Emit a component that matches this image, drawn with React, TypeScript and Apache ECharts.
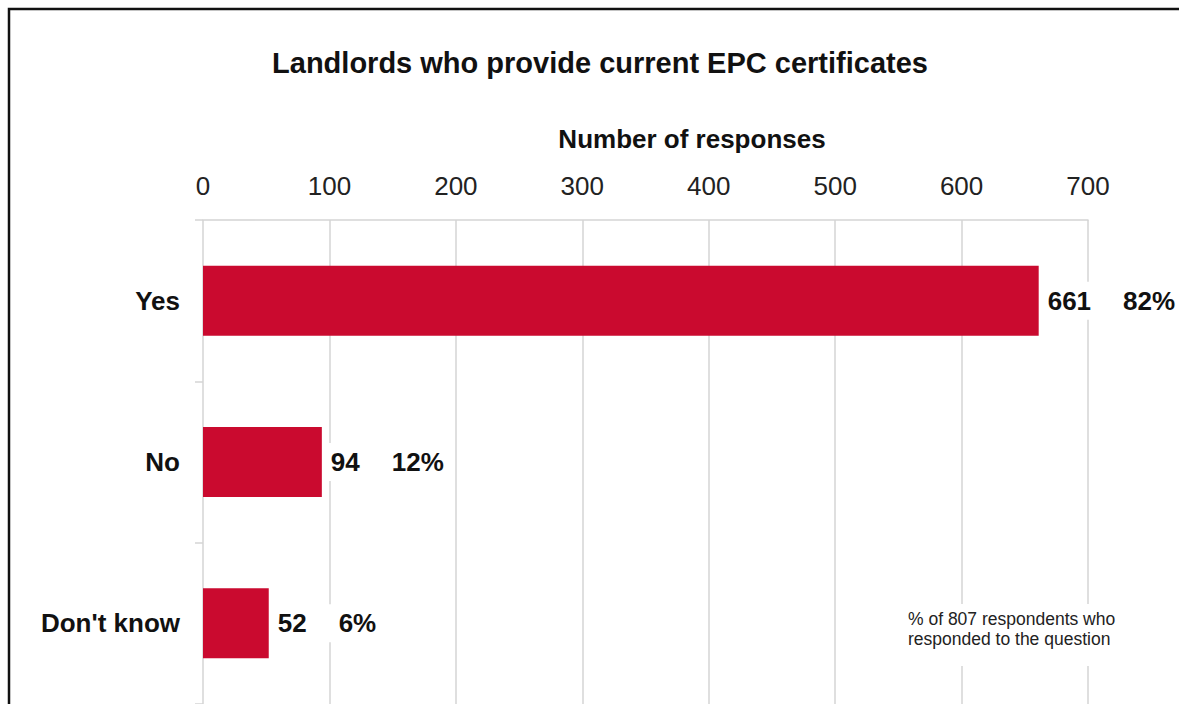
import React, { useEffect, useRef } from "react";
import * as echarts from "echarts";

const categories = ["Yes", "No", "Don't know"];
const responses = [661, 94, 52];
const percents = ["82%", "12%", "6%"];
const xTicks = [0, 100, 200, 300, 400, 500, 600, 700];
const titleText = "Landlords who provide current EPC certificates";
const axisTitle = "Number of responses";
const noteText = "% of 807 respondents who\nresponded to the question";

const FONT = "'Liberation Sans', Arial, sans-serif";

export default function App() {
  const ref = useRef<HTMLDivElement>(null);
  useEffect(() => {
    const chart = echarts.init(ref.current!, null, { renderer: "svg" });
    chart.setOption({
      animation: false,
      backgroundColor: "#ffffff",
      textStyle: { fontFamily: FONT },
      grid: { left: 203, right: 91, top: 220, height: 489, containLabel: false },
      xAxis: {
        type: "value",
        position: "top",
        min: xTicks[0],
        max: xTicks[xTicks.length - 1],
        interval: 100,
        axisLine: { show: true, lineStyle: { color: "#d4d4d4", width: 1.5 } },
        axisTick: { show: false },
        axisLabel: { fontSize: 26, color: "#222", margin: 21, fontFamily: FONT },
        splitLine: { show: true, lineStyle: { color: "#d4d4d4", width: 1.5 } },
      },
      yAxis: {
        type: "category",
        data: categories,
        inverse: true,
        axisLine: { show: false },
        axisTick: { show: true, length: 8, lineStyle: { color: "#d4d4d4", width: 1.5 } },
        axisLabel: { fontSize: 26, fontWeight: "bold", color: "#111", margin: 23, fontFamily: FONT },
      },
      series: [
        {
          type: "bar",
          data: responses,
          barWidth: 70,
          itemStyle: { color: "#CA0A2F" },
          label: {
            show: true,
            position: "right",
            distance: 5,
            backgroundColor: "#ffffff",
            padding: [6, 4, 6, 4],
            formatter: (p: any) => `{v|${p.value}}{p|${percents[p.dataIndex]}}`,
            rich: {
              v: { fontSize: 26, fontWeight: "bold", color: "#111", fontFamily: FONT },
              p: { fontSize: 26, fontWeight: "bold", color: "#111", fontFamily: FONT, padding: [0, 0, 0, 32] },
            },
          },
        },
      ],
      graphic: [
        {
          type: "rect",
          shape: { x: 9, y: 9, width: 1300, height: 900 },
          style: { fill: "none", stroke: "#111", lineWidth: 2.5 },
          z: 100,
        },
        {
          type: "text",
          x: 600,
          y: 63,
          style: {
            text: titleText,
            fontSize: 29,
            fontWeight: "bold",
            fill: "#111",
            fontFamily: FONT,
            textAlign: "center",
            textVerticalAlign: "middle",
          },
        },
        {
          type: "text",
          x: 692,
          y: 139,
          style: {
            text: axisTitle,
            fontSize: 26,
            fontWeight: "bold",
            fill: "#111",
            fontFamily: FONT,
            textAlign: "center",
            textVerticalAlign: "middle",
          },
        },
        {
          type: "text",
          x: 900,
          y: 604,
          z: 50,
          style: {
            text: noteText,
            fontSize: 17.5,
            lineHeight: 20,
            fill: "#222",
            fontFamily: FONT,
            backgroundColor: "#ffffff",
            padding: [5, 8, 17, 8],
          },
        },
      ],
    });
    return () => chart.dispose();
  }, []);
  return (
    <div
      ref={ref}
      style={{ position: "absolute", left: 0, top: 0, width: 1179, height: 704 }}
    />
  );
}
